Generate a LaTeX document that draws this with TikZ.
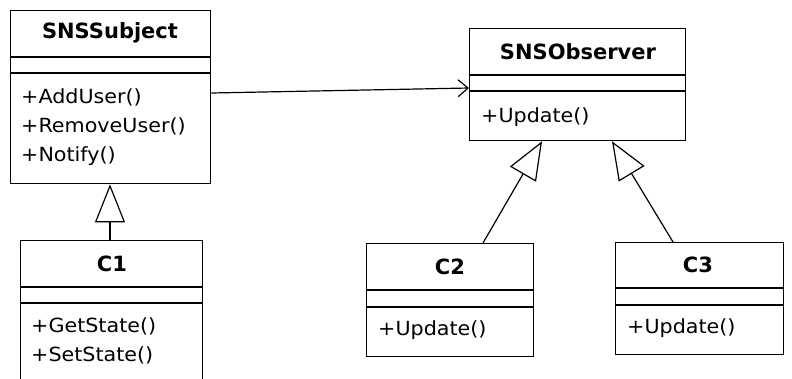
\documentclass[tikz,border=0pt]{standalone}
\usepackage{fontspec}
\setmainfont{DejaVu Sans}
\newfontfamily\memfont{DejaVu Sans}[FakeStretch=1.06]
\usetikzlibrary{arrows.meta,calc}
\begin{document}
\begin{tikzpicture}[x=1pt,y=-1pt,
  box/.style={draw,line width=1.3pt,rectangle,anchor=north west,inner sep=0pt},
  divider/.style={line width=1.3pt},
  cname/.style={font=\bfseries\fontsize{21}{24}\selectfont,inner sep=0pt},
  member/.style={font=\memfont\fontsize{19.5}{22}\selectfont,inner sep=0pt,anchor=west},
  assoc/.style={line width=1.2pt,-{Straight Barb[length=10pt,width=17pt,line width=1.2pt]}},
  inherit/.style={line width=1.2pt,-{Triangle[open,length=38pt,width=30pt,line width=1.2pt]}}]
\useasboundingbox (0,0) rectangle (792,378);
\clip (0,0) rectangle (792,378);
\fill[white] (0,0) rectangle (792,378);
% SNSSubject
\node[box,minimum width=200pt,minimum height=173pt] (subj) at (10,10) {};
\draw[divider] (10,57) -- (210,57);
\draw[divider] (10,73) -- (210,73);
\node[cname] (subjn) at (110,33) {SNSSubject};
\node[member] (m1) at (21,97) {+AddUser()};
\node[member] (m2) at (21,126) {+RemoveUser()};
\node[member] (m3) at (21,156) {+Notify()};
% SNSObserver
\node[box,minimum width=216pt,minimum height=112pt] (obs) at (469,28) {};
\draw[divider] (469,75) -- (685,75);
\draw[divider] (469,91) -- (685,91);
\node[cname] (obsn) at (578,52) {SNSObserver};
\node[member] (m4) at (481,117) {+Update()};
% C1
\node[box,minimum width=182pt,minimum height=160pt] (c1) at (20,240) {};
\draw[divider] (20,287) -- (202,287);
\draw[divider] (20,303) -- (202,303);
\node[cname] (c1n) at (112,264) {C1};
\node[member] (m5) at (31,326) {+GetState()};
\node[member] (m6) at (31,355) {+SetState()};
% C2
\node[box,minimum width=167pt,minimum height=113pt] (c2) at (366,243) {};
\draw[divider] (366,290) -- (533,290);
\draw[divider] (366,307) -- (533,307);
\node[cname] (c2n) at (450,267) {C2};
\node[member] (m7) at (378,330) {+Update()};
% C3
\node[box,minimum width=168pt,minimum height=112pt] (c3) at (615,242) {};
\draw[divider] (615,288) -- (783,288);
\draw[divider] (615,305) -- (783,305);
\node[cname] (c3n) at (698,265) {C3};
\node[member] (m8) at (627,328) {+Update()};
% connectors
\draw[assoc] ($(subj.north east)+(0,83)$) -- ($(obs.north west)+(0,60)$);
\draw[inherit] ($(c1.north west)+(90,0)$) -- ($(subj.south west)+(100,0)$);
\draw[inherit] ($(c2.north west)+(117,0)$) -- ($(obs.south west)+(73,0)$);
\draw[inherit] ($(c3.north west)+(58,0)$) -- ($(obs.south west)+(143,0)$);
\end{tikzpicture}
\end{document}
